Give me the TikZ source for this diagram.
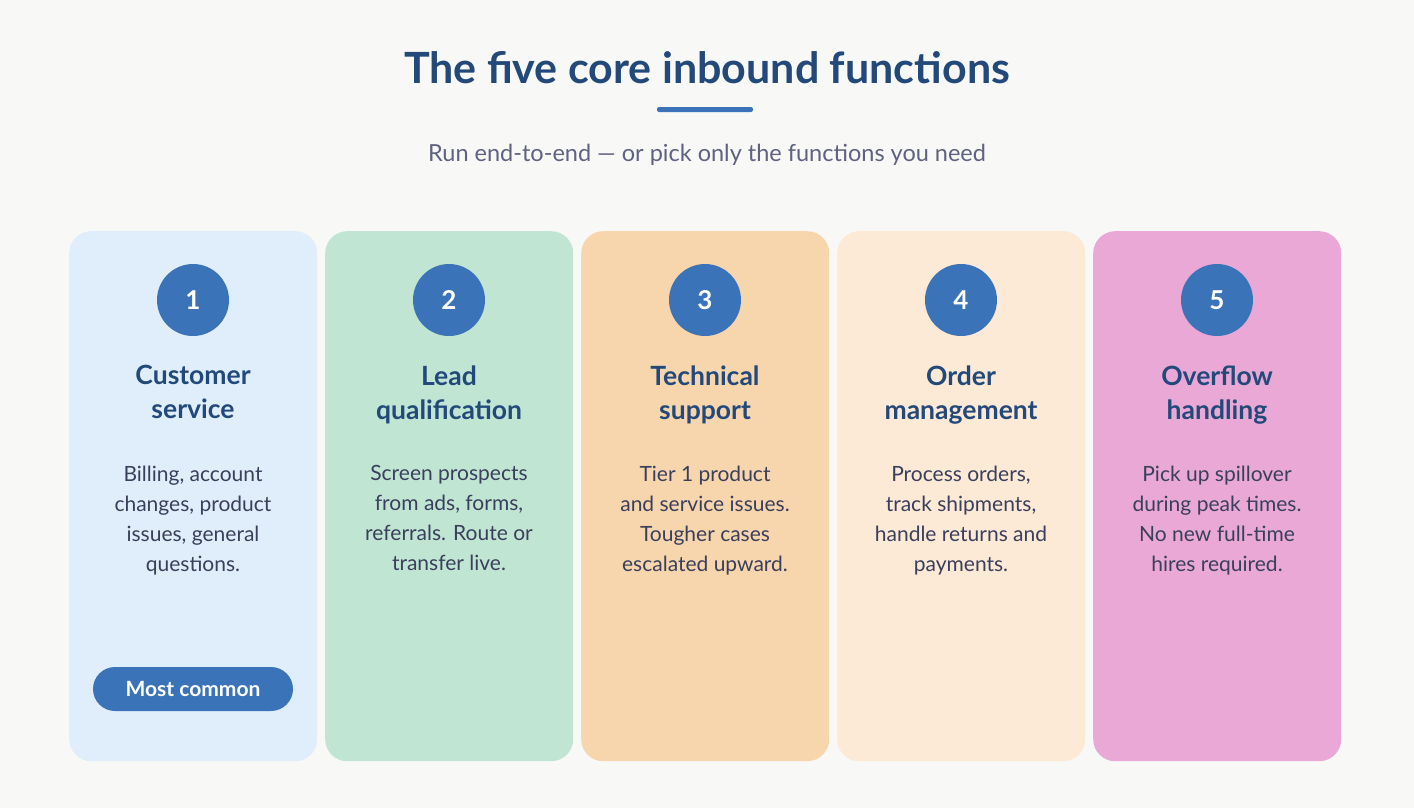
\documentclass[tikz,border=0pt]{standalone}
\usepackage{fontspec}
\setmainfont{Lato}
\begin{document}
\definecolor{bg}{HTML}{F8F8F6}
\definecolor{cA}{HTML}{E0EEFB}
\definecolor{cB}{HTML}{C1E5D3}
\definecolor{cC}{HTML}{F7D6AD}
\definecolor{cD}{HTML}{FCE9D6}
\definecolor{cE}{HTML}{EAA8D6}
\definecolor{blue}{HTML}{3A73B8}
\definecolor{head}{HTML}{22497A}
\definecolor{body}{HTML}{3A3F5C}
\definecolor{sub}{HTML}{5F6280}
\begin{tikzpicture}[x=1pt,y=-1pt,
  card/.style={rounded corners=22pt,minimum width=248pt,minimum height=530pt,anchor=north west,inner sep=0pt},
  num/.style={circle,fill=blue,minimum size=72pt,text=white,font=\fontsize{26}{26}\selectfont\bfseries},
  hd/.style={text=head,font=\fontsize{26.5}{34}\selectfont\bfseries,align=center,anchor=north},
  bd/.style={text=body,font=\fontsize{21}{30}\selectfont,align=center,anchor=north}]
\fill[bg] (0,0) rectangle (1414,808);
\node[text=head,font=\fontsize{43}{43}\selectfont\bfseries] (title) at (707,68) {The five core inbound functions};
\fill[blue,rounded corners=2pt] (657,107) rectangle (753,112);
\node[text=sub,font=\fontsize{23.5}{24}\selectfont] (subtitle) at (707,155) {Run end-to-end — or pick only the functions you need};
\foreach \i/\c/\n/\h/\b [count=\k from 0] in {
 1/cA/1/{Customer\\service}/{Billing, account\\changes, product\\issues, general\\questions.},
 2/cB/2/{Lead\\qualification}/{Screen prospects\\from ads, forms,\\referrals. Route or\\transfer live.},
 3/cC/3/{Technical\\support}/{Tier 1 product\\and service issues.\\Tougher cases\\escalated upward.},
 4/cD/4/{Order\\management}/{Process orders,\\track shipments,\\handle returns and\\payments.},
 5/cE/5/{Overflow\\handling}/{Pick up spillover\\during peak times.\\No new full-time\\hires required.}}{
  \pgfmathsetmacro{\xl}{69+256*\k}
  \pgfmathsetmacro{\xc}{193+256*\k}
  \node[card,fill=\c] (card\i) at (\xl,231) {};
  \node[num] (num\i) at (\xc,300) {\n};
  \node[hd] (head\i) at (\xc,362) {\h};
  \node[bd] (body\i) at (\xc,462) {\b};
}
\node[fill=blue,rounded corners=22pt,minimum width=200pt,minimum height=44pt,inner sep=0pt,text=white,font=\fontsize{21}{21}\selectfont\bfseries] (badge) at (193,689) {Most common};
\end{tikzpicture}
\end{document}
